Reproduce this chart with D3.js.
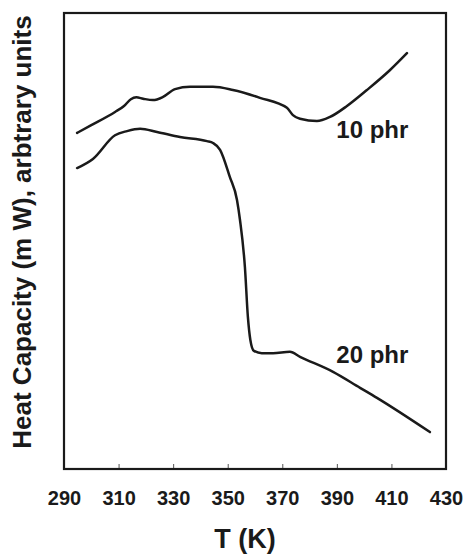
<!DOCTYPE html>
<html lang="en">
<head>
    <meta charset="UTF-8">
    <title>Heat capacity vs T</title>
    <script src="https://d3js.org/d3.v7.min.js"></script>
    <style>
        html, body{
            margin: 0;
            overflow: hidden;
            background-color: #fff;
        }
        svg{
            display: block;
        }
        text{
            font-family: "Liberation Sans", Arial, sans-serif;
            font-weight: bold;
            fill: #1a1a1a;
        }
    </style>
</head>
<body>
<script>
    // Data (T in K, heat capacity in arbitrary units)
    const tTicks = [290, 310, 330, 350, 370, 390, 410, 430];

    const t10 = [294.8, 300, 308.7, 312, 314.5, 316.5, 319, 322.6, 326.3, 330.7, 336.2, 344.6, 351.9,
                 361.8, 371.7, 373.9, 376.5, 382.7, 387.5, 393.7, 401.0, 409.5, 415.7];
    const cp10 = [73.7, 75.4, 78.3, 79.6, 81.1, 81.5, 81.2, 80.9, 81.6, 83.3, 83.8, 83.8, 83.1,
                  81.4, 79.2, 77.6, 76.8, 76.3, 77.2, 79.6, 83.1, 87.5, 91.2];

    const t20 = [294.8, 300.6, 308.7, 313.1, 317.9, 324.1, 332.5, 342.4, 344.6, 347.2, 350.8, 353.4,
                 354.5, 356.3, 357.4, 358.3, 359.6, 362.5, 366.6, 372.8, 376.5, 388.6, 398.5, 404.7, 424.1];
    const cp20 = [66.0, 68.0, 73.2, 74.1, 74.6, 73.9, 72.8, 71.9, 71.5, 70.0, 64.0, 59.0,
                  54.6, 44.3, 33.3, 28.3, 25.9, 25.4, 25.4, 25.7, 24.6, 21.3, 17.8, 15.6, 8.1];

    const width = 463;
    const height = 554;
    const margin = { top: 13, right: 17, bottom: 85, left: 64 };
    const innerWidth = width - margin.left - margin.right;
    const innerHeight = height - margin.top - margin.bottom;

    const svg = d3.select("body")
        .append("svg")
        .attr("width", width)
        .attr("height", height)
        .append("g")
        .attr("transform", `translate(${margin.left},${margin.top})`);

    const xScale = d3.scaleLinear().domain([290, 430]).range([0, innerWidth]);
    const yScale = d3.scaleLinear().domain([0, 100]).range([innerHeight, 0]);

    // x axis: small inward ticks, labels below
    const xAxis = svg.append("g")
        .attr("transform", `translate(0,${innerHeight})`)
        .call(d3.axisBottom(xScale).tickValues(tTicks).tickSizeInner(-5).tickSizeOuter(0).tickPadding(22));
    xAxis.select(".domain").remove();
    xAxis.selectAll(".tick line").attr("stroke", "#555").attr("stroke-width", 1);
    xAxis.selectAll(".tick text")
        .style("font-size", "20px")
        .style("font-family", "'Liberation Sans', Arial, sans-serif")
        .style("font-weight", "bold")
        .attr("fill", "#1a1a1a");

    // frame
    svg.append("rect")
        .attr("x", 0)
        .attr("y", 0)
        .attr("width", innerWidth)
        .attr("height", innerHeight)
        .attr("fill", "none")
        .attr("stroke", "#1a1a1a")
        .attr("stroke-width", 2.2);

    const line = d3.line()
        .x(d => xScale(d[0]))
        .y(d => yScale(d[1]))
        .curve(d3.curveMonotoneX);

    const series = [
        { name: "10 phr", pts: d3.zip(t10, cp10), labelT: 389.8, labelY: 72.6 },
        { name: "20 phr", pts: d3.zip(t20, cp20), labelT: 389.8, labelY: 23.3 }
    ];

    series.forEach(s => {
        svg.append("path")
            .datum(s.pts)
            .attr("fill", "none")
            .attr("stroke", "#1a1a1a")
            .attr("stroke-width", 2.5)
            .attr("stroke-linejoin", "round")
            .attr("stroke-linecap", "round")
            .attr("d", line);

        svg.append("text")
            .attr("x", xScale(s.labelT))
            .attr("y", yScale(s.labelY))
            .style("font-size", "24px")
            .text(s.name);
    });

    // axis titles
    svg.append("text")
        .attr("x", innerWidth / 2 - 10)
        .attr("y", 535)
        .attr("text-anchor", "middle")
        .style("font-size", "27px")
        .text("T (K)");

    svg.append("text")
        .attr("transform", "rotate(-90)")
        .attr("x", -219)
        .attr("y", -33)
        .attr("text-anchor", "middle")
        .style("font-size", "26px")
        .text("Heat Capacity (m W), arbtrary units");
</script>
</body>
</html>
